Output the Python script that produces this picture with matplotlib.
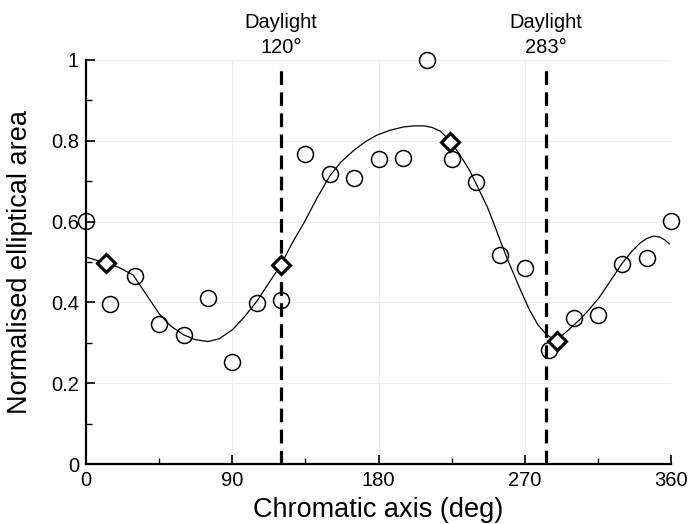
import matplotlib
matplotlib.use("Agg")
import matplotlib.pyplot as plt
from matplotlib.ticker import MultipleLocator, FuncFormatter

plt.rcParams['font.family'] = ['Liberation Sans', 'DejaVu Sans']

# measured data (circles)
obs_x = [0, 15, 30, 45, 60, 75, 90, 105, 120, 135, 150, 165, 180, 195, 210,
         225, 240, 255, 270, 285, 300, 315, 330, 345, 360]
obs_y = [0.601, 0.396, 0.465, 0.347, 0.319, 0.411, 0.252, 0.399, 0.406, 0.767,
         0.717, 0.708, 0.755, 0.757, 1.0, 0.755, 0.698, 0.517, 0.485, 0.282,
         0.361, 0.369, 0.495, 0.51, 0.601]

# model predictions (diamonds)
dia_x = [12, 120, 224, 290]
dia_y = [0.498, 0.492, 0.797, 0.304]

# fitted curve
fit_x = [0, 12, 20, 29, 37, 45, 52, 60, 67, 75, 82, 90, 97, 105, 112, 120, 127,
         134, 142, 150, 157, 165, 172, 179, 187, 195, 202, 208, 213, 218, 224,
         230, 236, 241, 247, 251, 255, 259, 263, 268, 273, 278, 283, 287, 290,
         297, 304, 310, 316, 323, 330, 336, 341, 345, 349, 353, 356, 359]
fit_y = [0.512, 0.498, 0.487, 0.468, 0.420, 0.372, 0.342, 0.320, 0.308, 0.303,
         0.310, 0.332, 0.362, 0.402, 0.445, 0.493, 0.548, 0.596, 0.657, 0.713,
         0.748, 0.777, 0.798, 0.814, 0.826, 0.834, 0.837, 0.837, 0.833, 0.824,
         0.800, 0.766, 0.727, 0.686, 0.636, 0.595, 0.552, 0.510, 0.472, 0.425,
         0.381, 0.345, 0.322, 0.310, 0.308, 0.332, 0.358, 0.384, 0.413, 0.455,
         0.497, 0.527, 0.547, 0.558, 0.564, 0.562, 0.555, 0.545]

daylight_x = [120, 283]
daylight_title = "Daylight"
daylight_values = ["120°", "283°"]

fig = plt.figure(figsize=(6.91, 5.24), dpi=100)
ax = fig.add_axes([86/691, 1 - 464/524, 585/691, 404/524])

ax.set_xlim(0, 360)
ax.set_ylim(0, 1)

ax.grid(True, which='major', color='#eeeeee', linewidth=0.8, zorder=0)

ax.vlines(daylight_x, 0, 0.975, colors='black', linestyles=(0, (4.3, 2.3)),
          linewidth=2.3, zorder=2)
for xv, val in zip(daylight_x, daylight_values):
    ax.text(xv, 1.079, daylight_title, ha='center', va='baseline',
            fontsize=14.5, clip_on=False)
    ax.text(xv, 1.017, val, ha='center', va='baseline',
            fontsize=14.5, clip_on=False)

ax.plot(fit_x, fit_y, color='black', linewidth=0.9, zorder=3)
ax.plot(obs_x, obs_y, linestyle='none', marker='o', markersize=11.5,
        markerfacecolor='none', markeredgecolor='black', markeredgewidth=1.1,
        clip_on=False, zorder=4)
ax.plot(dia_x, dia_y, linestyle='none', marker='D', markersize=9.5,
        markerfacecolor='white', markeredgecolor='black', markeredgewidth=2.2,
        clip_on=False, zorder=5)

ax.spines['top'].set_visible(False)
ax.spines['right'].set_visible(False)
ax.spines['left'].set_linewidth(1.6)
ax.spines['bottom'].set_linewidth(1.6)

ax.xaxis.set_major_locator(MultipleLocator(90))
ax.xaxis.set_minor_locator(MultipleLocator(45))
ax.yaxis.set_major_locator(MultipleLocator(0.2))
ax.yaxis.set_minor_locator(MultipleLocator(0.1))
ax.yaxis.set_major_formatter(FuncFormatter(lambda v, p: f"{v:g}"))

ax.tick_params(which='major', direction='in', length=6.5, width=1.2,
               labelsize=14.5, pad=5)
ax.tick_params(which='minor', direction='in', length=4, width=1.0)

ax.set_xlabel("Chromatic axis (deg)", fontsize=19.5)
ax.set_ylabel("Normalised elliptical area", fontsize=19.5)
ax.xaxis.set_label_coords(0.5, (464 - 510) / 404)
ax.xaxis.label.set_va('center')
ax.yaxis.set_label_coords((20 - 86) / 585, 0.5)
ax.yaxis.label.set_va('center')

fig.savefig("out.png", dpi=100)
